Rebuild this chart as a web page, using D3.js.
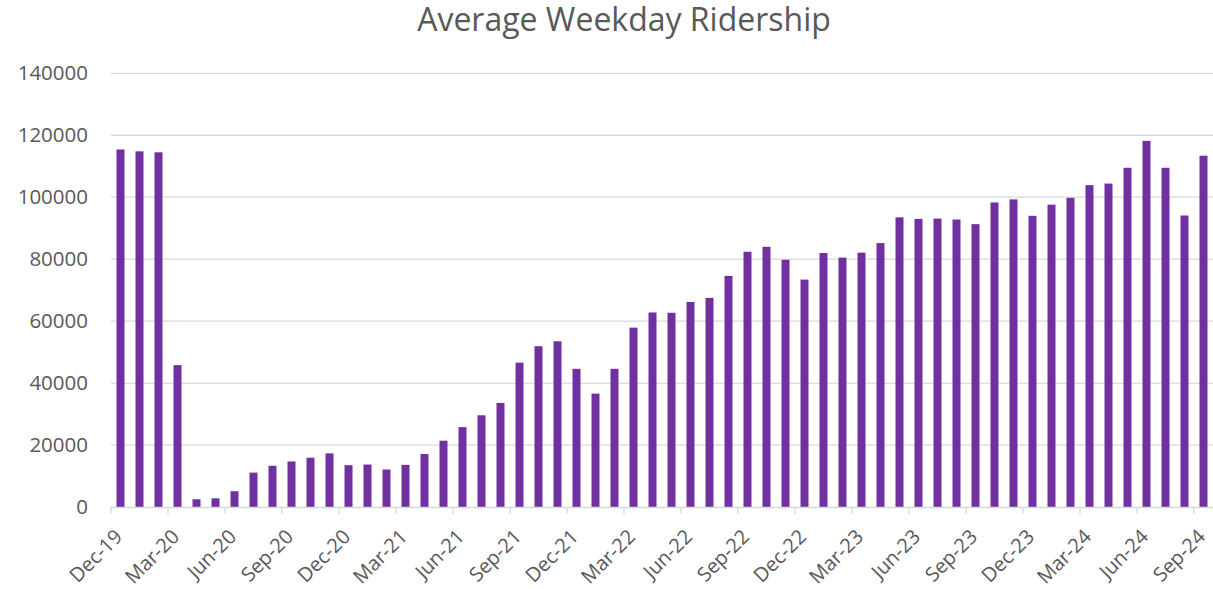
<!DOCTYPE html>
<html>
<head>
<meta charset="utf-8">
<script src="https://cdn.jsdelivr.net/npm/d3@7"></script>
<style>
  body { margin: 0; background: #fff; }
  text { font-family: "Open Sans", sans-serif; fill: #595959; }
</style>
</head>
<body>
<div id="chart"></div>
<script>
// months on the axis, Dec-19 .. Sep-24
const months = [
  "Dec-19",
  "Jan-20","Feb-20","Mar-20","Apr-20","May-20","Jun-20","Jul-20","Aug-20","Sep-20","Oct-20","Nov-20","Dec-20",
  "Jan-21","Feb-21","Mar-21","Apr-21","May-21","Jun-21","Jul-21","Aug-21","Sep-21","Oct-21","Nov-21","Dec-21",
  "Jan-22","Feb-22","Mar-22","Apr-22","May-22","Jun-22","Jul-22","Aug-22","Sep-22","Oct-22","Nov-22","Dec-22",
  "Jan-23","Feb-23","Mar-23","Apr-23","May-23","Jun-23","Jul-23","Aug-23","Sep-23","Oct-23","Nov-23","Dec-23",
  "Jan-24","Feb-24","Mar-24","Apr-24","May-24","Jun-24","Jul-24","Aug-24","Sep-24"
];

const ridership = [
  115400,
  114800, 114500, 45800, 2500, 2800, 5100, 11100, 13300, 14700, 15900, 17300, 13500,
  13700, 12100, 13600, 17100, 21400, 25800, 29600, 33600, 46600, 51900, 53500, 44600,
  36600, 44600, 57900, 62800, 62700, 66200, 67500, 74600, 82400, 84000, 79800, 73400,
  82000, 80500, 82100, 85200, 93500, 93000, 93100, 92800, 91300, 98300, 99300, 94000,
  97600, 99800, 103900, 104400, 109500, 118200, 109500, 94100, 113400
];

const tickLabels = ["Dec-19","Mar-20","Jun-20","Sep-20","Dec-20","Mar-21","Jun-21","Sep-21","Dec-21",
  "Mar-22","Jun-22","Sep-22","Dec-22","Mar-23","Jun-23","Sep-23","Dec-23","Mar-24","Jun-24","Sep-24"];

const yTicks = [0, 20000, 40000, 60000, 80000, 100000, 120000, 140000];

const W = 1213, H = 589;
const plot = {left: 111, right: 1213, top: 73.3, bottom: 507};

const svg = d3.select("#chart").append("svg")
    .attr("width", W)
    .attr("height", H);

// title
svg.append("text")
    .attr("x", 624)
    .attr("y", 31)
    .attr("text-anchor", "middle")
    .style("font-size", "32px")
    .text("Average Weekday Ridership");

const gap = 11 / 19;
const x = d3.scaleBand()
    .domain(months)
    .range([plot.left, plot.right])
    .paddingInner(gap)
    .paddingOuter(gap / 2);

const y = d3.scaleLinear()
    .domain([0, 140000])
    .range([plot.bottom, plot.top]);

// gridlines
svg.selectAll("line.grid").data(yTicks.filter(d => d > 0))
    .enter().append("line")
    .attr("class", "grid")
    .attr("x1", plot.left)
    .attr("x2", plot.right)
    .attr("y1", d => y(d))
    .attr("y2", d => y(d))
    .attr("stroke", "#d9d9d9")
    .attr("stroke-width", 1.3);

// y labels
svg.selectAll("text.ylab").data(yTicks)
    .enter().append("text")
    .attr("class", "ylab")
    .attr("x", 88)
    .attr("y", d => y(d))
    .attr("dy", "0.35em")
    .attr("text-anchor", "end")
    .style("font-size", "20.5px")
    .text(d => d);

// bars
svg.selectAll("rect.bar").data(ridership)
    .enter().append("rect")
    .attr("class", "bar")
    .attr("x", (d, i) => x(months[i]))
    .attr("width", x.bandwidth())
    .attr("y", d => y(d))
    .attr("height", d => y(0) - y(d))
    .attr("fill", "#7030a0");

// x axis line
svg.append("line")
    .attr("x1", plot.left)
    .attr("x2", plot.right)
    .attr("y1", y(0) + 0.5)
    .attr("y2", y(0) + 0.5)
    .attr("stroke", "#d9d9d9")
    .attr("stroke-width", 1.3);

// tick marks sit at the start of each labelled month
const half = (x.step() - x.bandwidth()) / 2;
svg.selectAll("line.tick").data(tickLabels)
    .enter().append("line")
    .attr("class", "tick")
    .attr("x1", d => x(d) - half)
    .attr("x2", d => x(d) - half)
    .attr("y1", y(0))
    .attr("y2", y(0) + 7)
    .attr("stroke", "#d9d9d9")
    .attr("stroke-width", 1.3);

// rotated month labels
svg.selectAll("text.xlab").data(tickLabels)
    .enter().append("text")
    .attr("class", "xlab")
    .attr("text-anchor", "end")
    .attr("transform", d => "translate(" + (x(d) + x.bandwidth() / 2 + 3) + ",538) rotate(-45)")
    .style("font-size", "20px")
    .text(d => d);
</script>
</body>
</html>
